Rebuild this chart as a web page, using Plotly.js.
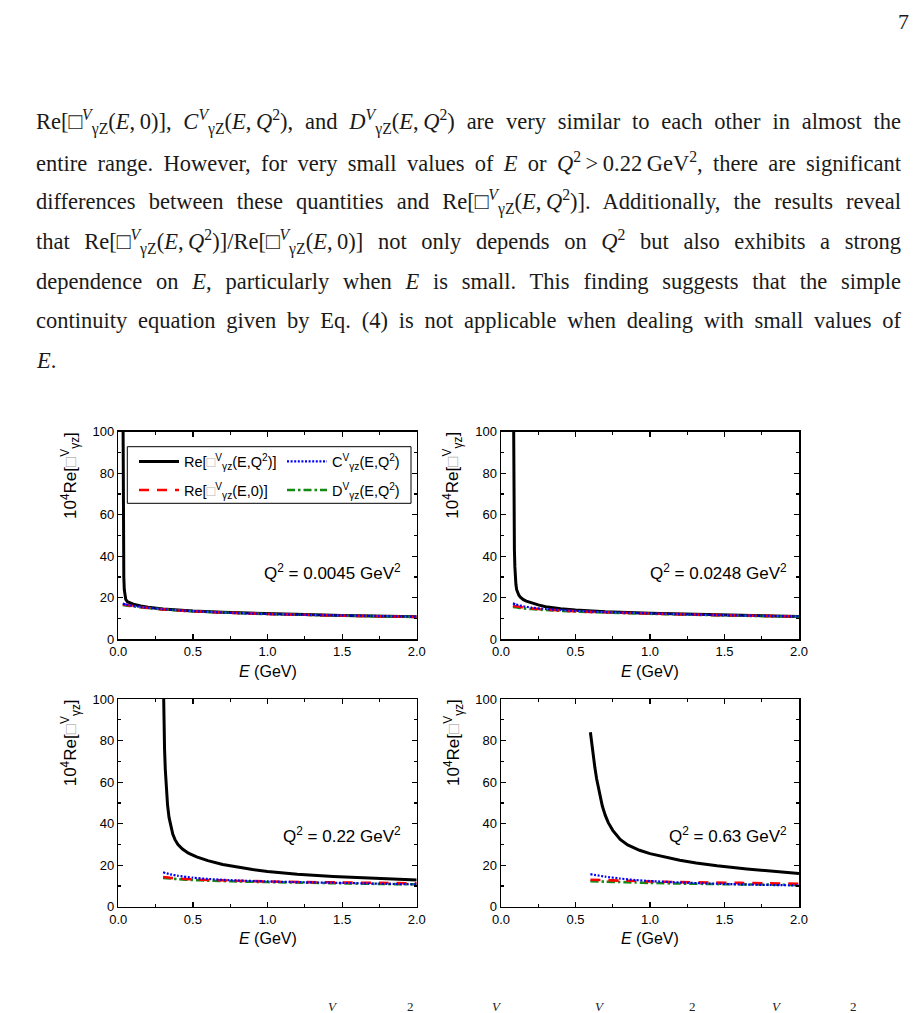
<!DOCTYPE html>
<html>
<head>
<meta charset="utf-8">
<script src="https://cdn.plot.ly/plotly-3.0.1.min.js"></script>
<style>
  html, body { margin: 0; padding: 0; background: #fff; }
  #page { width: 920px; height: 1013px; }
</style>
</head>
<body>
<div id="page"></div>
<script>
// ---- Q^2 = 0.0045 GeV^2 ----
const E_re_q1 = [0.028, 0.030, 0.032, 0.034, 0.037, 0.040, 0.045, 0.05, 0.06, 0.08, 0.10, 0.15, 0.20, 0.30, 0.40, 0.50, 0.70, 1.00, 1.25, 1.50, 1.75, 2.00];
const re_q1   = [160, 110, 70, 45, 30, 24, 20.5, 19.2, 18.2, 17.4, 16.9, 16.0, 15.4, 14.6, 14.0, 13.6, 13.0, 12.3, 11.9, 11.5, 11.2, 10.9];
const E_q1    = [0.03, 0.05, 0.075, 0.10, 0.15, 0.20, 0.30, 0.40, 0.50, 0.70, 1.00, 1.25, 1.50, 1.75, 2.00];
const c_q1    = [17.2, 16.8, 16.4, 16.1, 15.6, 15.2, 14.5, 14.0, 13.6, 12.9, 12.2, 11.8, 11.5, 11.2, 10.9];
const re0_q1  = [16.9, 16.6, 16.3, 16.0, 15.5, 15.1, 14.4, 13.9, 13.5, 12.9, 12.2, 11.8, 11.4, 11.1, 10.8];
const d_q1    = [16.5, 16.3, 16.1, 15.9, 15.4, 15.0, 14.4, 13.9, 13.5, 12.9, 12.2, 11.8, 11.4, 11.1, 10.8];

// ---- Q^2 = 0.0248 GeV^2 ----
const E_re_q2 = [0.080, 0.082, 0.084, 0.086, 0.088, 0.090, 0.093, 0.096, 0.100, 0.105, 0.110, 0.120, 0.130, 0.150, 0.170, 0.20, 0.25, 0.30, 0.40, 0.50, 0.70, 1.00, 1.25, 1.50, 1.75, 2.00];
const re_q2   = [160, 115, 85, 65, 52, 43, 35, 30, 26.5, 23.9, 22.6, 21.2, 20.3, 19.1, 18.4, 17.6, 16.6, 15.7, 14.7, 14.1, 13.3, 12.6, 12.2, 11.7, 11.3, 11.0];
const E_q2    = [0.08, 0.10, 0.15, 0.20, 0.30, 0.40, 0.50, 0.70, 1.00, 1.25, 1.50, 1.75, 2.00];
const c_q2    = [17.3, 16.8, 15.9, 15.3, 14.6, 14.1, 13.7, 13.1, 12.5, 12.0, 11.6, 11.3, 11.0];
const re0_q2  = [16.2, 15.9, 15.3, 14.9, 14.3, 13.9, 13.5, 13.0, 12.4, 12.0, 11.6, 11.3, 11.0];
const d_q2    = [15.6, 15.4, 14.9, 14.6, 14.1, 13.7, 13.4, 12.9, 12.3, 11.9, 11.5, 11.2, 10.9];

// ---- Q^2 = 0.22 GeV^2 ----
const E_re_q3 = [0.300, 0.303, 0.306, 0.310, 0.315, 0.320, 0.325, 0.330, 0.340, 0.350, 0.365, 0.380, 0.400, 0.430, 0.470, 0.525, 0.600, 0.700, 0.800, 0.900, 1.000, 1.200, 1.440, 1.700, 2.000];
const re_q3   = [118, 100, 88, 76, 66, 59, 53.5, 49, 43, 39, 35, 32.3, 30.0, 27.8, 25.8, 24.0, 22.2, 20.4, 19.0, 17.9, 17.0, 15.7, 14.6, 13.7, 12.9];
const E_q3    = [0.30, 0.35, 0.40, 0.50, 0.60, 0.75, 1.00, 1.25, 1.50, 1.75, 2.00];
const c_q3    = [16.6, 15.6, 14.9, 14.0, 13.4, 12.8, 12.2, 11.8, 11.5, 11.1, 10.8];
const re0_q3  = [14.3, 13.9, 13.6, 13.2, 12.9, 12.6, 12.2, 11.9, 11.7, 11.5, 11.3];
const d_q3    = [13.9, 13.6, 13.3, 12.9, 12.6, 12.3, 11.9, 11.6, 11.3, 11.0, 10.8];

// ---- Q^2 = 0.63 GeV^2 ----
const E_re_q4 = [0.600, 0.610, 0.620, 0.630, 0.642, 0.660, 0.680, 0.700, 0.720, 0.750, 0.800, 0.850, 0.930, 1.000, 1.090, 1.200, 1.310, 1.450, 1.650, 1.820, 2.000];
const re_q4   = [84, 77.5, 72, 67, 61.5, 54.5, 48.5, 44, 40.5, 36.8, 32.4, 29.8, 27.2, 25.6, 24.0, 22.4, 21.1, 19.7, 18.2, 17.0, 16.0];
const E_q4    = [0.60, 0.70, 0.80, 0.90, 1.00, 1.20, 1.40, 1.60, 1.80, 2.00];
const c_q4    = [15.7, 14.5, 13.6, 12.9, 12.4, 11.7, 11.2, 10.8, 10.5, 10.3];
const re0_q4  = [13.0, 12.8, 12.6, 12.4, 12.2, 11.9, 11.7, 11.5, 11.3, 11.1];
const d_q4    = [12.3, 12.1, 11.9, 11.7, 11.5, 11.2, 11.0, 10.8, 10.7, 10.5];

const q2Labels = ['0.0045', '0.0248', '0.22', '0.63'];

// ---- page text ----
const box = '\u25A1';
const thin = '\u2009';
const paragraphLines = [
  'Re[' + box + '<sup><i>V</i></sup><sub>γZ</sub>(<i>E</i>,' + thin + '0)], <i>C</i><sup><i>V</i></sup><sub>γZ</sub>(<i>E</i>,' + thin + '<i>Q</i><sup>2</sup>), and <i>D</i><sup><i>V</i></sup><sub>γZ</sub>(<i>E</i>,' + thin + '<i>Q</i><sup>2</sup>) are very similar to each other in almost the',
  'entire range. However, for very small values of <i>E</i> or <i>Q</i><sup>2</sup>' + thin + '&gt;' + thin + '0.22' + thin + 'GeV<sup>2</sup>, there are significant',
  'differences between these quantities and Re[' + box + '<sup><i>V</i></sup><sub>γZ</sub>(<i>E</i>,' + thin + '<i>Q</i><sup>2</sup>)]. Additionally, the results reveal',
  'that Re[' + box + '<sup><i>V</i></sup><sub>γZ</sub>(<i>E</i>,' + thin + '<i>Q</i><sup>2</sup>)]/Re[' + box + '<sup><i>V</i></sup><sub>γZ</sub>(<i>E</i>,' + thin + '0)] not only depends on <i>Q</i><sup>2</sup> but also exhibits a strong',
  'dependence on <i>E</i>, particularly when <i>E</i> is small. This finding suggests that the simple',
  'continuity equation given by Eq. (4) is not applicable when dealing with small values of',
  '<i>E</i>.'
];

const W = 920, H = 1013;
const px = v => v / W;
const py = v => (H - v) / H;

const sans = 'Liberation Sans, Arial, sans-serif';
const serif = 'Liberation Serif, Times New Roman, serif';

const boxGrey = "<span style='color:#b4b4b4'>" + box + "</span>";
const nameRe  = 'Re[' + boxGrey + '<sup>V</sup><sub>γz</sub>(E,Q<sup>2</sup>)]';
const nameRe0 = 'Re[' + boxGrey + '<sup>V</sup><sub>γz</sub>(E,0)]';
const nameC   = 'C<sup>V</sup><sub>γz</sub>(E,Q<sup>2</sup>)';
const nameD   = 'D<sup>V</sup><sub>γz</sub>(E,Q<sup>2</sup>)';
const yTitle  = '10<sup>4</sup>Re[' + boxGrey + '<sup>V</sup><sub>γz</sub>]';

// panel geometry in page pixels
const panels = [
  { x0: 118.3, x1: 416.7, y0: 431.7, y1: 639.3 },
  { x0: 501.0, x1: 799.0, y0: 431.7, y1: 639.3 },
  { x0: 118.3, x1: 416.7, y0: 699.0, y1: 906.8 },
  { x0: 501.0, x1: 799.0, y0: 699.0, y1: 906.8 }
];

const sets = [
  { Er: E_re_q1, re: re_q1, E: E_q1, c: c_q1, r0: re0_q1, d: d_q1 },
  { Er: E_re_q2, re: re_q2, E: E_q2, c: c_q2, r0: re0_q2, d: d_q2 },
  { Er: E_re_q3, re: re_q3, E: E_q3, c: c_q3, r0: re0_q3, d: d_q3 },
  { Er: E_re_q4, re: re_q4, E: E_q4, c: c_q4, r0: re0_q4, d: d_q4 }
];

const data = [];
sets.forEach((s, i) => {
  const xa = 'x' + (i ? i + 1 : ''), ya = 'y' + (i ? i + 1 : '');
  const first = i === 0;
  data.push({ x: s.Er, y: s.re, xaxis: xa, yaxis: ya, mode: 'lines', name: nameRe,
    line: { color: '#000000', width: 3 },
    showlegend: first, legend: 'legend' });
  data.push({ x: s.E, y: s.d, xaxis: xa, yaxis: ya, mode: 'lines', name: nameD,
    line: { color: '#138a13', width: 2.6, dash: '8px,3px,2.5px,3px', shape: 'spline', smoothing: 0.5 },
    showlegend: first, legend: 'legend4' });
  data.push({ x: s.E, y: s.r0, xaxis: xa, yaxis: ya, mode: 'lines', name: nameRe0,
    line: { color: '#ff0000', width: 2.6, dash: '10px,8px', shape: 'spline', smoothing: 0.5 },
    showlegend: first, legend: 'legend3' });
  data.push({ x: s.E, y: s.c, xaxis: xa, yaxis: ya, mode: 'lines', name: nameC,
    line: { color: '#0000ff', width: 2.2, dash: '2px,1.6px', shape: 'spline', smoothing: 0.5 },
    showlegend: first, legend: 'legend2' });
});

function xAxis(p, anchor) {
  return {
    domain: [px(p.x0), px(p.x1)], anchor: anchor, range: [0, 2],
    tick0: 0, dtick: 0.5, tickformat: '.1f',
    ticks: 'inside', ticklen: 5, tickwidth: 1.2, tickcolor: '#000',
    minor: { ticks: 'inside', dtick: 0.25, ticklen: 3, tickwidth: 1.2, tickcolor: '#000' },
    showline: true, linecolor: '#000', linewidth: 1.5, mirror: 'ticks',
    showgrid: false, zeroline: false, fixedrange: true,
    tickfont: { family: sans, size: 13, color: '#000' }
  };
}
function yAxis(p, anchor) {
  return {
    domain: [py(p.y1), py(p.y0)], anchor: anchor, range: [0, 100],
    tick0: 0, dtick: 20,
    ticks: 'inside', ticklen: 5, tickwidth: 1.2, tickcolor: '#000',
    minor: { ticks: 'inside', dtick: 10, ticklen: 3, tickwidth: 1.2, tickcolor: '#000' },
    showline: true, linecolor: '#000', linewidth: 1.5, mirror: 'ticks',
    showgrid: false, zeroline: false, fixedrange: true,
    tickfont: { family: sans, size: 13, color: '#000' }
  };
}

const annotations = [];
// paragraph lines
const lineY = [122, 162, 202, 242, 282, 321, 360];
paragraphLines.forEach((t, i) => {
  annotations.push({ xref: 'paper', yref: 'paper', x: px(35), y: py(lineY[i]),
    xanchor: 'left', yanchor: 'middle', align: 'left', showarrow: false, text: t,
    font: { family: serif, size: 22.5, color: '#1a1a1a' }, borderpad: 0 });
});
// page number
annotations.push({ xref: 'paper', yref: 'paper', x: px(911), y: py(22), xanchor: 'right', yanchor: 'middle',
  showarrow: false, text: '7', font: { family: serif, size: 22, color: '#1a1a1a' } });

panels.forEach((p, i) => {
  const cx = (p.x0 + p.x1) / 2;
  // x title
  annotations.push({ xref: 'paper', yref: 'paper', x: px(cx), y: py(p.y1 + 32), xanchor: 'center', yanchor: 'middle',
    showarrow: false, text: '<i>E</i> (GeV)', font: { family: sans, size: 16, color: '#000' } });
  // y title
  annotations.push({ xref: 'paper', yref: 'paper', x: px(p.x0 - 48), y: py(p.y0 + 44), xanchor: 'center', yanchor: 'middle',
    textangle: -90, showarrow: false, text: yTitle, font: { family: sans, size: 17, color: '#000' } });
  // Q^2 label
  annotations.push({ xref: 'paper', yref: 'paper', x: px(p.x1 - (i % 2 ? 10 : 14)), y: py(p.y0 + (i < 2 ? 140 : 136)),
    xanchor: 'right', yanchor: 'middle', showarrow: false,
    text: 'Q<sup>2</sup> = ' + q2Labels[i] + ' GeV<sup>2</sup>', font: { family: sans, size: 17, color: '#000' } });
});

// superscripts of the next text line, just visible at the page foot
const footGlyphs = [['V', 333], ['2', 410], ['V', 497], ['V', 600], ['2', 692], ['V', 777], ['2', 853]];
footGlyphs.forEach(g => {
  annotations.push({ xref: 'paper', yref: 'paper', x: px(g[1]), y: py(1006), xanchor: 'center', yanchor: 'middle',
    showarrow: false, text: g[0] === 'V' ? '<i>V</i>' : g[0], font: { family: serif, size: 13, color: '#222' } });
});

const legendBase = { xanchor: 'left', yanchor: 'middle', bgcolor: 'rgba(0,0,0,0)', borderwidth: 0,
  font: { family: sans, size: 14.5, color: '#000' }, itemwidth: 40, itemclick: false, itemdoubleclick: false };

const layout = {
  width: W, height: H, margin: { l: 0, r: 0, t: 0, b: 0 },
  paper_bgcolor: '#fff', plot_bgcolor: '#fff', showlegend: true,
  xaxis: xAxis(panels[0], 'y'), yaxis: yAxis(panels[0], 'x'),
  xaxis2: xAxis(panels[1], 'y2'), yaxis2: yAxis(panels[1], 'x2'),
  xaxis3: xAxis(panels[2], 'y3'), yaxis3: yAxis(panels[2], 'x3'),
  xaxis4: xAxis(panels[3], 'y4'), yaxis4: yAxis(panels[3], 'x4'),
  legend:  Object.assign({}, legendBase, { x: px(134), y: py(461.5) }),
  legend2: Object.assign({}, legendBase, { x: px(282), y: py(461.5) }),
  legend3: Object.assign({}, legendBase, { x: px(134), y: py(490) }),
  legend4: Object.assign({}, legendBase, { x: px(282), y: py(490) }),
  shapes: [{ type: 'rect', xref: 'paper', yref: 'paper', x0: px(127.3), x1: px(411), y0: py(503.3), y1: py(446.7),
    line: { color: '#000', width: 1 }, fillcolor: 'rgba(0,0,0,0)', layer: 'above' }],
  annotations: annotations
};

Plotly.newPlot('page', data, layout, { staticPlot: true, displayModeBar: false }).then(gd => {
  // spread the words of each full paragraph line to the text block width
  const target = 865;
  gd.querySelectorAll('g.annotation').forEach(g => {
    const idx = +g.getAttribute('data-index');
    if (idx > 5) return;
    const t = g.querySelector('text.annotation-text');
    if (!t) return;
    const w = t.getComputedTextLength();
    const n = (t.textContent.match(/ /g) || []).length;
    if (n > 0) t.style.wordSpacing = ((target - w) / n).toFixed(2) + 'px';
  });
});
</script>
</body>
</html>
